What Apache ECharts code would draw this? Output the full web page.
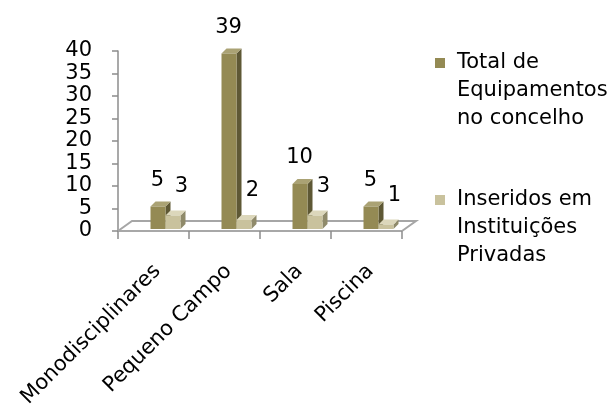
<!DOCTYPE html>
<html><head><meta charset="utf-8">
<script src="https://cdn.jsdelivr.net/npm/echarts@6/dist/echarts.min.js"></script>
<style>html,body{margin:0;padding:0;background:#fff}#c{width:614px;height:412px}</style>
</head><body><div id="c"></div>
<script>
const categories = ['Monodisciplinares', 'Pequeno Campo', 'Sala', 'Piscina'];
const seriesNames = ['Total de\nEquipamentos\nno concelho', 'Inseridos em\nInstituições\nPrivadas'];
const totalValues = [5, 39, 10, 5];
const privateValues = [3, 2, 3, 1];
const yMin = 0, yMax = 40, yInterval = 5;

const FONT = '"DejaVu Sans", sans-serif';
const DARK = {front: '#948a54', top: '#aaa274', side: '#5e5835'};
const LIGHT = {front: '#c9c29d', top: '#dcd7bb', side: '#8f8a6a'};

function barRenderer(frontOffset, labelDx, labelDy, colors) {
  return function (params, api) {
    const idx = api.value(0), v = api.value(1);
    const c = api.coord([idx, v]);
    const base = api.coord([idx, 0]);
    const w = 15, dx = 5, dy = -5;
    const x = c[0] + frontOffset;
    const top = c[1] - 2, bot = base[1] - 2;
    return {
      type: 'group',
      children: [
        {type: 'polygon', shape: {points: [[x + w, top], [x + w + dx, top + dy], [x + w + dx, bot + dy], [x + w, bot]]}, style: {fill: colors.side}},
        {type: 'polygon', shape: {points: [[x, top], [x + dx, top + dy], [x + w + dx, top + dy], [x + w, top]]}, style: {fill: colors.top}},
        {type: 'rect', shape: {x: x, y: top, width: w, height: bot - top}, style: {fill: colors.front}},
        {type: 'text', x: c[0] + labelDx, y: top - labelDy, style: {text: String(v), font: '21px ' + FONT, fill: '#000', align: 'center', verticalAlign: 'middle'}}
      ]
    };
  };
}

function floorRenderer(params, api) {
  const cs = params.coordSys;
  const y0 = api.coord([0, 0])[1];
  const x0 = cs.x, x1 = cs.x + cs.width;
  return {
    type: 'polyline',
    shape: {points: [[x0, y0], [x0 + 14, y0 - 10], [x1 + 14, y0 - 10], [x1, y0]]},
    style: {stroke: '#a6a6a6', lineWidth: 2, fill: null}
  };
}

const chart = echarts.init(document.getElementById('c'), null, {renderer: 'canvas'});
chart.setOption({
  animation: false,
  backgroundColor: '#fff',
  grid: {left: 118, right: 212, top: 51, bottom: 181, containLabel: false, outerBoundsMode: 'none'},
  legend: {
    orient: 'vertical', left: 435, top: -7, padding: 0,
    itemWidth: 10, itemHeight: 10, itemGap: -3, icon: 'rect',
    formatter: name => '\n\n' + name,
    textStyle: {fontFamily: FONT, fontSize: 21, lineHeight: 28, color: '#000', padding: [0, 0, 0, 7]},
    data: seriesNames
  },
  xAxis: {
    type: 'category', data: categories, boundaryGap: true,
    axisLine: {lineStyle: {color: '#8c8c8c', width: 1.5}},
    axisTick: {show: true, length: 8, lineStyle: {color: '#8c8c8c', width: 1.5}},
    axisLabel: {rotate: 45, interval: 0, margin: 26, verticalAlign: 'top', padding: [0, 5, 0, 0], fontFamily: FONT, fontSize: 21, color: '#000'}
  },
  yAxis: {
    type: 'value', min: yMin, max: yMax, interval: yInterval,
    splitLine: {show: false},
    axisLine: {show: true, lineStyle: {color: '#8c8c8c', width: 1.5}},
    axisTick: {show: true, length: 6, lineStyle: {color: '#8c8c8c', width: 1.5}},
    axisLabel: {margin: 26, fontFamily: FONT, fontSize: 21, color: '#000'}
  },
  series: [
    {type: 'custom', silent: true, z: 1, renderItem: floorRenderer, data: [[0, 0]], encode: {x: 0, y: 1}},
    {type: 'custom', name: seriesNames[0], z: 3, itemStyle: {color: DARK.front},
     renderItem: barRenderer(-3, 4, 26, DARK), encode: {x: 0, y: 1},
     data: totalValues.map((v, i) => [i, v])},
    {type: 'custom', name: seriesNames[1], z: 4, itemStyle: {color: LIGHT.front},
     renderItem: barRenderer(12, 28, 29, LIGHT), encode: {x: 0, y: 1},
     data: privateValues.map((v, i) => [i, v])}
  ]
});
</script>
</body></html>
